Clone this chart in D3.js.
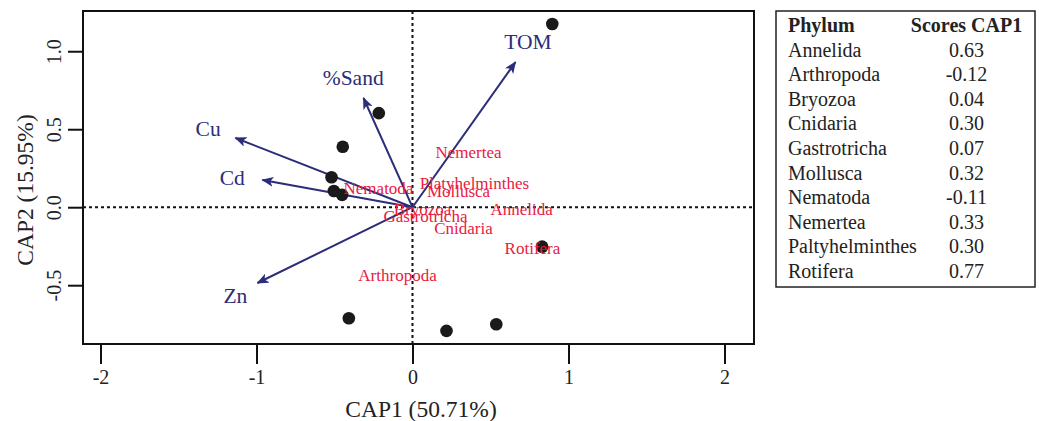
<!DOCTYPE html>
<html>
<head>
<meta charset="utf-8">
<script src="https://cdn.jsdelivr.net/npm/d3@7"></script>
<style>
  body { margin: 0; background: #fff; }
  svg { display: block; font-family: "Liberation Serif", "Times New Roman", serif; }
</style>
</head>
<body>
<svg width="1039" height="421"></svg>
<script>
// site scores (black dots)
const siteX = [0.896, -0.216, -0.447, -0.519, -0.504, -0.451, 0.831, -0.408, 0.218, 0.537];
const siteY = [1.175, 0.603, 0.388, 0.192, 0.104, 0.079, -0.253, -0.712, -0.793, -0.75];

// environmental vectors
const envNames = ["TOM", "%Sand", "Cu", "Cd", "Zn"];
const envX = [0.66, -0.314, -1.135, -0.962, -0.994];
const envY = [0.93, 0.70, 0.444, 0.175, -0.486];
const envLabX = [0.74, -0.38, -1.31, -1.155, -1.135];
const envLabY = [1.06, 0.83, 0.50, 0.19, -0.57];

// phylum labels as plotted
const phyla = ["Annelida", "Arthropoda", "Bryozoa", "Cnidaria", "Gastrotricha",
               "Mollusca", "Nematoda", "Nemertea", "Platyhelminthes", "Rotifera"];
const phylaX = [0.699, -0.096, 0.064, 0.327, 0.083, 0.295, -0.218, 0.359, 0.397, 0.769];
const phylaY = [-0.017, -0.44, -0.017, -0.139, -0.062, 0.098, 0.117, 0.348, 0.149, -0.267];

// table
const tablePhyla = ["Annelida", "Arthropoda", "Bryozoa", "Cnidaria", "Gastrotricha",
                    "Mollusca", "Nematoda", "Nemertea", "Paltyhelminthes", "Rotifera"];
const tableScores = ["0.63", "-0.12", "0.04", "0.30", "0.07", "0.32", "-0.11", "0.33", "0.30", "0.77"];

const xTicks = [-2, -1, 0, 1, 2];
const yTicks = [-0.5, 0, 0.5, 1.0];

const navy = "#2b2d78";
const red = "#e8203f";

const pLeft = 83, pRight = 754, pTop = 11, pBottom = 344;

let xScale = d3.scaleLinear()
    .domain([-2.112, 2.189])
    .range([pLeft, pRight]);

let yScale = d3.scaleLinear()
    .domain([-0.877, 1.258])
    .range([pBottom, pTop]);

const svg = d3.select("svg");

// zero lines
svg.append("line")
    .attr("x1", pLeft).attr("x2", pRight)
    .attr("y1", yScale(0)).attr("y2", yScale(0))
    .attr("stroke", "#111").attr("stroke-width", 2).attr("stroke-dasharray", "3,3");
svg.append("line")
    .attr("x1", xScale(0)).attr("x2", xScale(0))
    .attr("y1", pTop).attr("y2", pBottom)
    .attr("stroke", "#111").attr("stroke-width", 2).attr("stroke-dasharray", "3,3");

// axes
let xAxis = d3.axisBottom(xScale)
    .tickValues(xTicks)
    .tickSize(20)
    .tickPadding(6)
    .tickFormat(d => d < 0 ? "-" + Math.abs(d) : d);
let gx = svg.append("g")
    .attr("transform", `translate(0, ${pBottom})`)
    .call(xAxis);
gx.select(".domain").remove();
gx.selectAll("line").attr("stroke", "#111").attr("stroke-width", 2);
gx.selectAll("text")
    .attr("font-family", "Liberation Serif")
    .attr("font-size", 20).attr("fill", "#222");

let yAxis = d3.axisLeft(yScale)
    .tickValues(yTicks)
    .tickSize(15)
    .tickFormat(d => d < 0 ? "-" + Math.abs(d).toFixed(1) : d.toFixed(1));
let gy = svg.append("g")
    .attr("transform", `translate(${pLeft}, 0)`)
    .call(yAxis);
gy.select(".domain").remove();
gy.selectAll("line").attr("stroke", "#111").attr("stroke-width", 2);
gy.selectAll("text")
    .attr("font-family", "Liberation Serif")
    .attr("font-size", 20).attr("fill", "#222")
    .attr("x", 0).attr("y", 0).attr("dy", null)
    .attr("text-anchor", "middle")
    .attr("dominant-baseline", "central")
    .attr("transform", `translate(${54 - pLeft}, 0) rotate(-90)`);

// axis titles
svg.append("text")
    .attr("x", 421).attr("y", 417)
    .attr("text-anchor", "middle")
    .attr("font-size", 23.5).attr("fill", "#222")
    .text("CAP1 (50.71%)");
svg.append("text")
    .attr("transform", "translate(25, 190) rotate(-90)")
    .attr("text-anchor", "middle")
    .attr("dominant-baseline", "central")
    .attr("font-size", 23.5).attr("fill", "#222")
    .text("CAP2 (15.95%)");

// arrows
svg.append("defs").append("marker")
    .attr("id", "head")
    .attr("viewBox", "0 0 12 10")
    .attr("refX", 11).attr("refY", 5)
    .attr("markerWidth", 12).attr("markerHeight", 10)
    .attr("markerUnits", "userSpaceOnUse")
    .attr("orient", "auto")
    .append("path")
    .attr("d", "M0,0 L12,5 L0,10 L3,5 Z")
    .attr("fill", navy);

svg.selectAll(".env")
    .data(envNames)
    .enter().append("line")
    .attr("class", "env")
    .attr("x1", xScale(0)).attr("y1", yScale(0))
    .attr("x2", (d, i) => xScale(envX[i]))
    .attr("y2", (d, i) => yScale(envY[i]))
    .attr("stroke", navy).attr("stroke-width", 2)
    .attr("marker-end", "url(#head)");

svg.selectAll(".envlab")
    .data(envNames)
    .enter().append("text")
    .attr("class", "envlab")
    .attr("x", (d, i) => xScale(envLabX[i]))
    .attr("y", (d, i) => yScale(envLabY[i]))
    .attr("text-anchor", "middle")
    .attr("dominant-baseline", "central")
    .attr("font-size", 21.5).attr("fill", navy)
    .text(d => d);

// site points
svg.selectAll(".site")
    .data(siteX)
    .enter().append("circle")
    .attr("class", "site")
    .attr("cx", d => xScale(d))
    .attr("cy", (d, i) => yScale(siteY[i]))
    .attr("r", 6.3)
    .attr("fill", "#1a1a1a");

// phylum labels
svg.selectAll(".phy")
    .data(phyla)
    .enter().append("text")
    .attr("class", "phy")
    .attr("x", (d, i) => xScale(phylaX[i]))
    .attr("y", (d, i) => yScale(phylaY[i]))
    .attr("text-anchor", "middle")
    .attr("dominant-baseline", "central")
    .attr("font-size", 17).attr("fill", red)
    .text(d => d);

// plot box
svg.append("rect")
    .attr("x", pLeft).attr("y", pTop)
    .attr("width", pRight - pLeft).attr("height", pBottom - pTop)
    .attr("fill", "none").attr("stroke", "#111").attr("stroke-width", 2);

// table
const tab = svg.append("g");
tab.append("rect")
    .attr("x", 776).attr("y", 11)
    .attr("width", 259).attr("height", 276)
    .attr("fill", "none").attr("stroke", "#222").attr("stroke-width", 1.5);
tab.append("text")
    .attr("x", 788).attr("y", 32)
    .attr("font-size", 20).attr("font-weight", "bold").attr("fill", "#222")
    .text("Phylum");
tab.append("text")
    .attr("x", 966.5).attr("y", 32)
    .attr("text-anchor", "middle")
    .attr("font-size", 20).attr("font-weight", "bold").attr("fill", "#222")
    .text("Scores CAP1");
tab.selectAll(".tp")
    .data(tablePhyla)
    .enter().append("text")
    .attr("class", "tp")
    .attr("x", 788).attr("y", (d, i) => 56.6 + i * 24.6)
    .attr("font-size", 20).attr("fill", "#222")
    .text(d => d);
tab.selectAll(".ts")
    .data(tableScores)
    .enter().append("text")
    .attr("class", "ts")
    .attr("x", 966.5).attr("y", (d, i) => 56.6 + i * 24.6)
    .attr("text-anchor", "middle")
    .attr("font-size", 20).attr("fill", "#222")
    .text(d => d);
</script>
</body>
</html>
